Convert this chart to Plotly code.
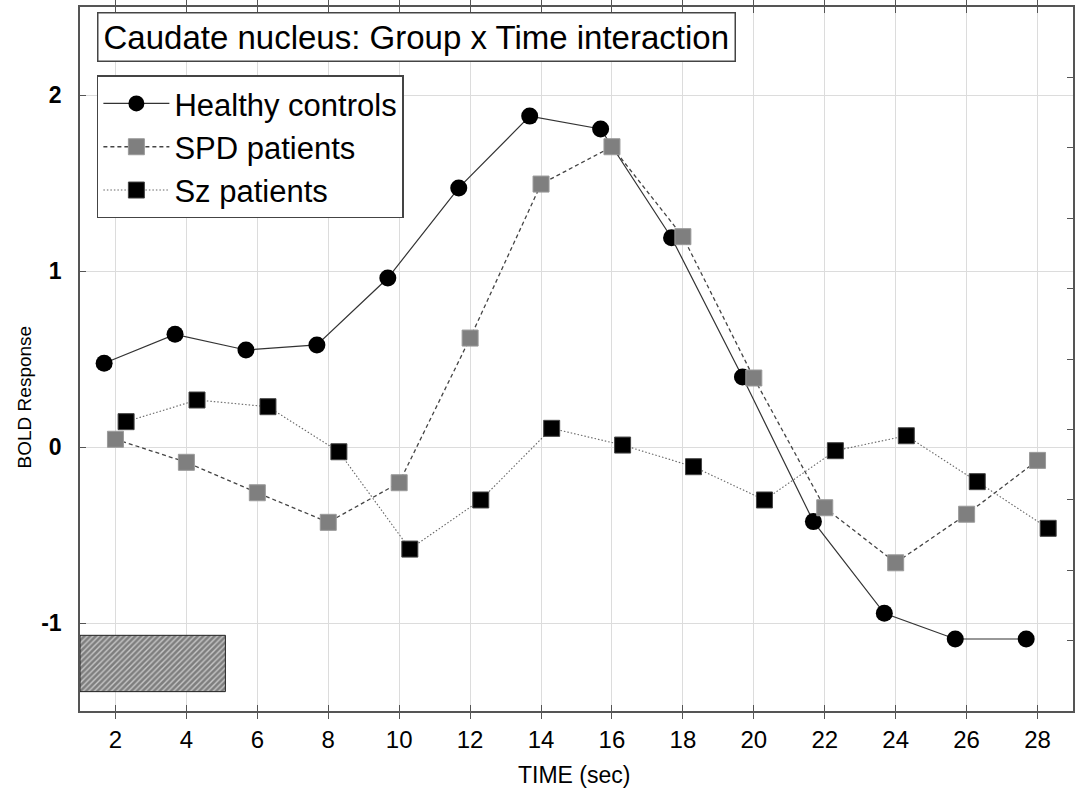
import numpy as np
import plotly.graph_objects as go

# ---------------- data ----------------
time_sec = [2, 4, 6, 8, 10, 12, 14, 16, 18, 20, 22, 24, 26, 28]
healthy_controls = [0.476, 0.640, 0.551, 0.580, 0.960, 1.472, 1.880, 1.807, 1.189,
                    0.398, -0.424, -0.945, -1.091, -1.091]
spd_patients = [0.044, -0.087, -0.260, -0.428, -0.203, 0.619, 1.494, 1.706, 1.195,
                0.392, -0.345, -0.658, -0.382, -0.076]
sz_patients = [0.144, 0.267, 0.229, -0.027, -0.580, -0.301, 0.106, 0.011, -0.112,
               -0.301, -0.021, 0.064, -0.197, -0.462]
group_names = ["Healthy controls", "SPD patients", "Sz patients"]
group_offsets = [-0.32, 0.0, 0.30]  # horizontal jitter of each group (sec)

stim_x = [1.0, 5.1]        # stimulus bar (sec)
stim_y = [-1.39, -1.07]    # stimulus bar (BOLD units)

x_ticks = list(range(2, 29, 2))
y_ticks = [-1, 0, 1, 2]
right_ticks = [2.1, 1.7, 1.3, 0.9, 0.5, 0.1, -0.3, -0.7, -1.1]

title_text = "Caudate nucleus: Group x Time interaction"

# ---------------- figure ----------------
t = np.array(time_sec, dtype=float)
fig = go.Figure()

fig.add_trace(go.Scatter(
    x=t + group_offsets[0], y=healthy_controls, name=group_names[0],
    mode="lines+markers",
    line=dict(color="#333333", width=1.2),
    marker=dict(symbol="circle", size=17, color="black",
                line=dict(color="black", width=0)),
))
fig.add_trace(go.Scatter(
    x=t + group_offsets[1], y=spd_patients, name=group_names[1],
    mode="lines+markers",
    line=dict(color="#444444", width=1.3, dash="4px,3px"),
    marker=dict(symbol="square", size=16, color="#7f7f7f",
                line=dict(color="#9a9a9a", width=1)),
))
fig.add_trace(go.Scatter(
    x=t + group_offsets[2], y=sz_patients, name=group_names[2],
    mode="lines+markers",
    line=dict(color="#666666", width=1.1, dash="1.5px,2px"),
    marker=dict(symbol="square", size=16, color="black",
                line=dict(color="#444444", width=1)),
))

# hatched stimulus bar
fig.add_trace(go.Scatter(
    x=[stim_x[0], stim_x[1], stim_x[1], stim_x[0], stim_x[0]],
    y=[stim_y[0], stim_y[0], stim_y[1], stim_y[1], stim_y[0]],
    mode="lines", fill="toself",
    fillcolor="#c4c4c4",
    fillpattern=dict(shape="/", size=4, solidity=0.65,
                     fgcolor="#333333", bgcolor="#c8c8c8"),
    line=dict(color="#222222", width=1),
    showlegend=False, hoverinfo="skip", yaxis="y2",
))

axis_col = "#555555"
grid_col = "#dcdcdc"

fig.update_layout(
    width=1076, height=793,
    margin=dict(l=80, r=1, t=7, b=82),
    paper_bgcolor="white", plot_bgcolor="white",
    font=dict(family="Liberation Sans, Arial, sans-serif", color="black"),
    xaxis=dict(
        range=[1, 29], tickvals=x_ticks, ticktext=[str(v) for v in x_ticks],
        ticks="inside", ticklen=6, tickcolor=axis_col, tickwidth=1,
        showline=True, linecolor=axis_col, linewidth=1.5, mirror="allticks",
        showgrid=True, gridcolor=grid_col, gridwidth=1, zeroline=False,
        tickfont=dict(size=24, color="black"), ticklabelstandoff=6,
    ),
    yaxis=dict(
        range=[-1.5, 2.5], tickvals=y_ticks, ticktext=[str(v) for v in y_ticks],
        ticks="inside", ticklen=6, tickcolor=axis_col, tickwidth=1,
        showline=True, linecolor=axis_col, linewidth=1.5, mirror=True,
        showgrid=True, gridcolor=grid_col, gridwidth=1, zeroline=False,
        tickfont=dict(size=23, color="black", weight="bold"), ticklabelstandoff=12,
    ),
    yaxis2=dict(
        range=[-1.5, 2.5], overlaying="y", side="right", anchor="x",
        tickvals=right_ticks, showticklabels=False,
        ticks="inside", ticklen=6, tickcolor=axis_col, tickwidth=1,
        showline=False, showgrid=False, zeroline=False,
    ),
    legend=dict(
        x=0.017, y=0.903, xanchor="left", yanchor="top",
        bordercolor="#444444", borderwidth=1.5, bgcolor="white",
        font=dict(size=31, color="black"), tracegroupgap=0, itemwidth=66,
    ),
    annotations=[
        dict(text=title_text, xref="paper", yref="paper", x=0.017, y=0.993,
             xanchor="left", yanchor="top", showarrow=False,
             font=dict(size=33, color="black"),
             bordercolor="#444444", borderwidth=1.5, borderpad=5, bgcolor="white"),
        dict(text="BOLD Response", xref="paper", yref="paper", x=-0.056, y=0.446,
             xanchor="center", yanchor="middle", textangle=-90, showarrow=False,
             font=dict(size=19, color="black")),
        dict(text="TIME (sec)", xref="paper", yref="paper", x=0.497, y=-0.091,
             xanchor="center", yanchor="middle", showarrow=False,
             font=dict(size=23, color="black")),
    ],
)

fig.write_html("out.html")
